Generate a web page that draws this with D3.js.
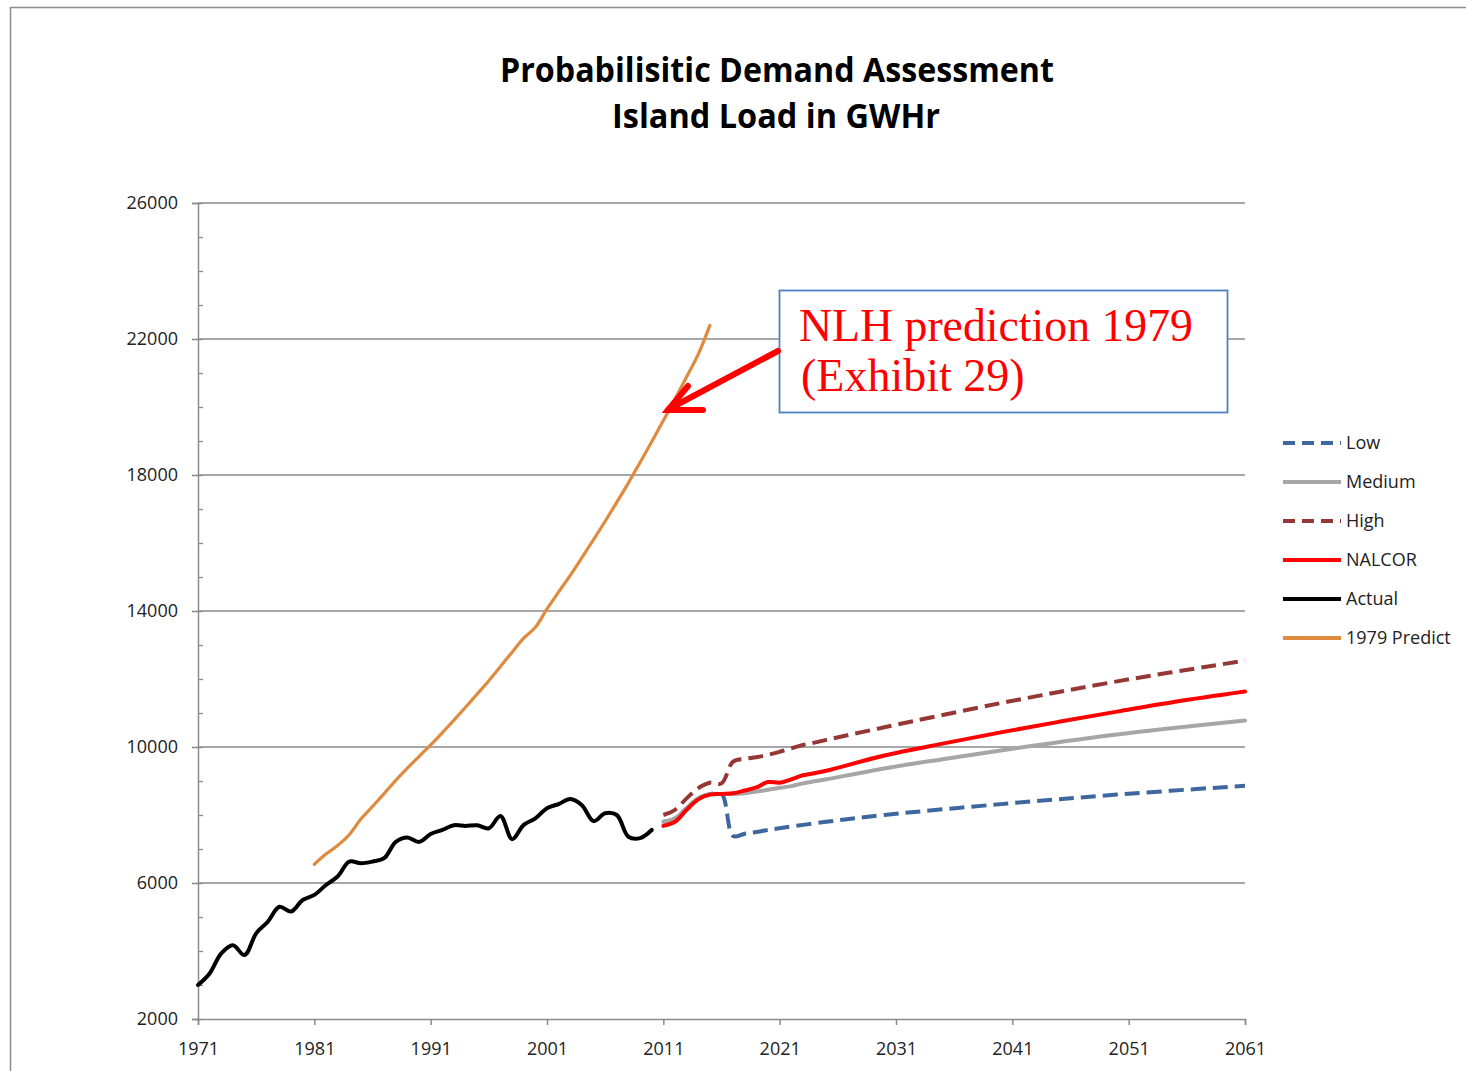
<!DOCTYPE html>
<html>
<head>
<meta charset="utf-8">
<script src="https://cdn.jsdelivr.net/npm/d3@7"></script>
<style>
  html, body { margin: 0; padding: 0; background: #fff; }
  svg { display: block; }
</style>
</head>
<body>
<svg id="chart" width="1466" height="1071"></svg>
<script>
// ---------------- DATA ----------------
const titleLines = ["Probabilisitic Demand Assessment", "Island Load in GWHr"];
const xTicks = [1971, 1981, 1991, 2001, 2011, 2021, 2031, 2041, 2051, 2061];
const yTicks = [2000, 6000, 10000, 14000, 18000, 22000, 26000];
const yMinorTicks = d3.range(2000, 26001, 1000);

const actualYears = [1971,1972,1973,1974,1975,1976,1977,1978,1979,1980,
                     1981,1982,1983,1984,1985,1986,1987,1988,1989,1990,
                     1991,1992,1993,1994,1995,1996,1997,1998,1999,2000,
                     2001,2002,2003,2004,2005,2006,2007,2008,2009,2010];
const actualValues = [3000,3340,3930,4170,3880,4520,4860,5300,5160,5500,
                      5650,5940,6190,6630,6580,6630,6730,7210,7340,7210,
                      7440,7560,7700,7680,7700,7610,7970,7290,7710,7900,
                      8200,8320,8470,8290,7820,8050,8000,7360,7320,7560];

const predict1979Years = [1981,1982,1983,1984,1985,1986,1987,1988,1989,1990,
                          1991,1992,1993,1994,1995,1996,1997,1998,1999,2000,
                          2001,2002,2003,2004,2005,2006,2007,2008,2009,2010,
                          2011,2012,2013,2014,2015];
const predict1979Values = [6550,6850,7100,7420,7880,8250,8630,9020,9380,9720,
                           10060,10420,10790,11170,11560,11950,12370,12790,13200,13520,
                           14060,14560,15050,15570,16100,16640,17200,17770,18370,18980,
                           19600,20230,20890,21550,22400];

const lowYears   = [2011,2012,2013,2014,2015,2016,2017,2018,2019,2020,2025,2030,2040,2050,2061];
const lowValues  = [7800,7900,8200,8490,8610,8620,7380,7450,7500,7560,7800,8000,8320,8600,8860];

const mediumYears  = [2011,2012,2013,2014,2015,2016,2017,2018,2019,2020,2021,2022,2023,2024,2025,2030,2035,2042,2050,2061];
const mediumValues = [7800,7900,8200,8490,8610,8620,8620,8640,8690,8740,8800,8850,8930,8990,9050,9370,9640,10000,10370,10780];

const highYears  = [2011,2012,2013,2014,2015,2016,2017,2018,2019,2020,2021,2022,2023,2024,2025,2030,2040,2050,2061];
const highValues = [8000,8150,8490,8790,8950,8930,9570,9650,9700,9770,9860,9960,10060,10130,10210,10580,11290,11930,12540];

const nalcorYears  = [2011,2012,2013,2014,2015,2016,2017,2018,2019,2020,2021,2022,2023,2024,2025,2030,2035,2040,2045,2050,2055,2061];
const nalcorValues = [7680,7800,8150,8460,8600,8620,8640,8720,8810,8970,8950,9050,9170,9230,9300,9750,10100,10430,10740,11040,11330,11630];

const seriesNames = ["Low", "Medium", "High", "NALCOR", "Actual", "1979 Predict"];
const annotationLines = ["NLH prediction 1979", "(Exhibit 29)"];

// ---------------- STYLES ----------------
const styles = {
  "Low":          { color: "#3d679e", width: 4,   dash: "15,7" },
  "Medium":       { color: "#a6a6a6", width: 4,   dash: null },
  "High":         { color: "#953735", width: 4,   dash: "15,7" },
  "NALCOR":       { color: "#ff0000", width: 4,   dash: null },
  "Actual":       { color: "#000000", width: 4,   dash: null },
  "1979 Predict": { color: "#de8b3f", width: 3.2, dash: null }
};

const series = [
  { name: "Low",          years: lowYears,        values: lowValues },
  { name: "Medium",       years: mediumYears,     values: mediumValues },
  { name: "High",         years: highYears,       values: highValues },
  { name: "NALCOR",       years: nalcorYears,     values: nalcorValues },
  { name: "Actual",       years: actualYears,     values: actualValues },
  { name: "1979 Predict", years: predict1979Years, values: predict1979Values }
];

// ---------------- CHART ----------------
const svg = d3.select("#chart");
const axisFont = "'Open Sans', 'Noto Sans', sans-serif";

// outer frame
svg.append("rect")
  .attr("x", 10.5).attr("y", 7.5)
  .attr("width", 1480).attr("height", 1100)
  .attr("fill", "#fff").attr("stroke", "#8c8c8c").attr("stroke-width", 1.5);

const x = d3.scaleLinear().domain([1971, 2061]).range([198, 1245]);
const y = d3.scaleLinear().domain([2000, 26000]).range([1019, 203]);

// title
svg.append("text")
  .attr("x", 777).attr("y", 82)
  .attr("text-anchor", "middle")
  .attr("font-family", "'Liberation Sans Narrow', 'Open Sans', sans-serif")
  .attr("font-weight", "bold").attr("font-size", 34)
  .attr("textLength", 554).attr("lengthAdjust", "spacingAndGlyphs")
  .attr("fill", "#000")
  .text(titleLines[0]);
svg.append("text")
  .attr("x", 776).attr("y", 128)
  .attr("text-anchor", "middle")
  .attr("font-family", "'Liberation Sans Narrow', 'Open Sans', sans-serif")
  .attr("font-weight", "bold").attr("font-size", 34)
  .attr("textLength", 328).attr("lengthAdjust", "spacingAndGlyphs")
  .attr("fill", "#000")
  .text(titleLines[1]);

// gridlines
svg.append("g")
  .selectAll("line")
  .data(yTicks.filter(v => v !== 2000))
  .join("line")
  .attr("x1", x(1971)).attr("x2", x(2061))
  .attr("y1", d => y(d)).attr("y2", d => y(d))
  .attr("stroke", "#8a8a8a").attr("stroke-width", 1.5);

// y axis
const yAxis = svg.append("g")
  .attr("transform", `translate(${x(1971)},0)`)
  .call(d3.axisLeft(y).tickValues(yTicks).tickSize(6).tickPadding(14).tickFormat(d3.format("d")));
yAxis.select(".domain").attr("stroke", "#8a8a8a").attr("stroke-width", 1.5);
yAxis.selectAll(".tick line").attr("stroke", "#8a8a8a").attr("stroke-width", 1.5);
yAxis.selectAll("text").attr("font-family", axisFont).attr("font-size", 18).attr("fill", "#222");

// minor ticks on y axis (inside)
const yMinor = svg.append("g")
  .attr("transform", `translate(${x(1971)},0)`)
  .call(d3.axisRight(y).tickValues(yMinorTicks).tickSize(5).tickFormat(""));
yMinor.select(".domain").remove();
yMinor.selectAll(".tick line").attr("stroke", "#8a8a8a").attr("stroke-width", 1.3);

// x axis
const xAxis = svg.append("g")
  .attr("transform", `translate(0,${y(2000)})`)
  .call(d3.axisBottom(x).tickValues(xTicks).tickSize(6).tickPadding(17).tickFormat(d3.format("d")));
xAxis.select(".domain").attr("stroke", "#8a8a8a").attr("stroke-width", 1.5);
xAxis.selectAll(".tick line").attr("stroke", "#8a8a8a").attr("stroke-width", 1.5);
xAxis.selectAll("text").attr("font-family", axisFont).attr("font-size", 18).attr("fill", "#222");

// series lines
const line = d3.line()
  .x(d => x(d[0]))
  .y(d => y(d[1]))
  .curve(d3.curveCatmullRom.alpha(0.5));

const gLines = svg.append("g");
series.forEach(s => {
  const st = styles[s.name];
  const pts = s.years.map((yr, i) => [yr, s.values[i]]);
  gLines.append("path")
    .datum(pts)
    .attr("d", line)
    .attr("fill", "none")
    .attr("stroke", st.color)
    .attr("stroke-width", st.width)
    .attr("stroke-dasharray", st.dash)
    .attr("stroke-linejoin", "round")
    .attr("stroke-linecap", st.dash ? "butt" : "round");
});

// legend
const legend = svg.append("g");
const legendTop = 443, legendStep = 39;
seriesNames.forEach((name, i) => {
  const st = styles[name];
  const cy = legendTop + i * legendStep;
  legend.append("line")
    .attr("x1", 1283).attr("x2", 1341)
    .attr("y1", cy).attr("y2", cy)
    .attr("stroke", st.color)
    .attr("stroke-width", 4)
    .attr("stroke-dasharray", st.dash ? "12,7" : null);
  legend.append("text")
    .attr("x", 1346).attr("y", cy)
    .attr("dy", "0.35em")
    .attr("font-family", axisFont).attr("font-size", 18)
    .attr("fill", "#222")
    .text(name);
});

// annotation box
svg.append("rect")
  .attr("x", 779.5).attr("y", 290.5)
  .attr("width", 448).attr("height", 122)
  .attr("fill", "#fff")
  .attr("stroke", "#4f81bd").attr("stroke-width", 1.8);

svg.append("text")
  .attr("x", 799).attr("y", 341)
  .attr("font-family", "'Liberation Serif', 'DejaVu Serif', serif")
  .attr("font-size", 46).attr("fill", "#ff0000")
  .attr("textLength", 394).attr("lengthAdjust", "spacingAndGlyphs")
  .text(annotationLines[0]);
svg.append("text")
  .attr("x", 801).attr("y", 391)
  .attr("font-family", "'Liberation Serif', 'DejaVu Serif', serif")
  .attr("font-size", 46).attr("fill", "#ff0000")
  .text(annotationLines[1]);

// arrow
const arrow = svg.append("g")
  .attr("stroke", "#ff0000").attr("stroke-width", 6)
  .attr("stroke-linecap", "round").attr("fill", "none");
arrow.append("line").attr("x1", 778).attr("y1", 351).attr("x2", 669).attr("y2", 409);
arrow.append("polyline").attr("points", "688,386 668,410 703,410");
</script>
</body>
</html>
